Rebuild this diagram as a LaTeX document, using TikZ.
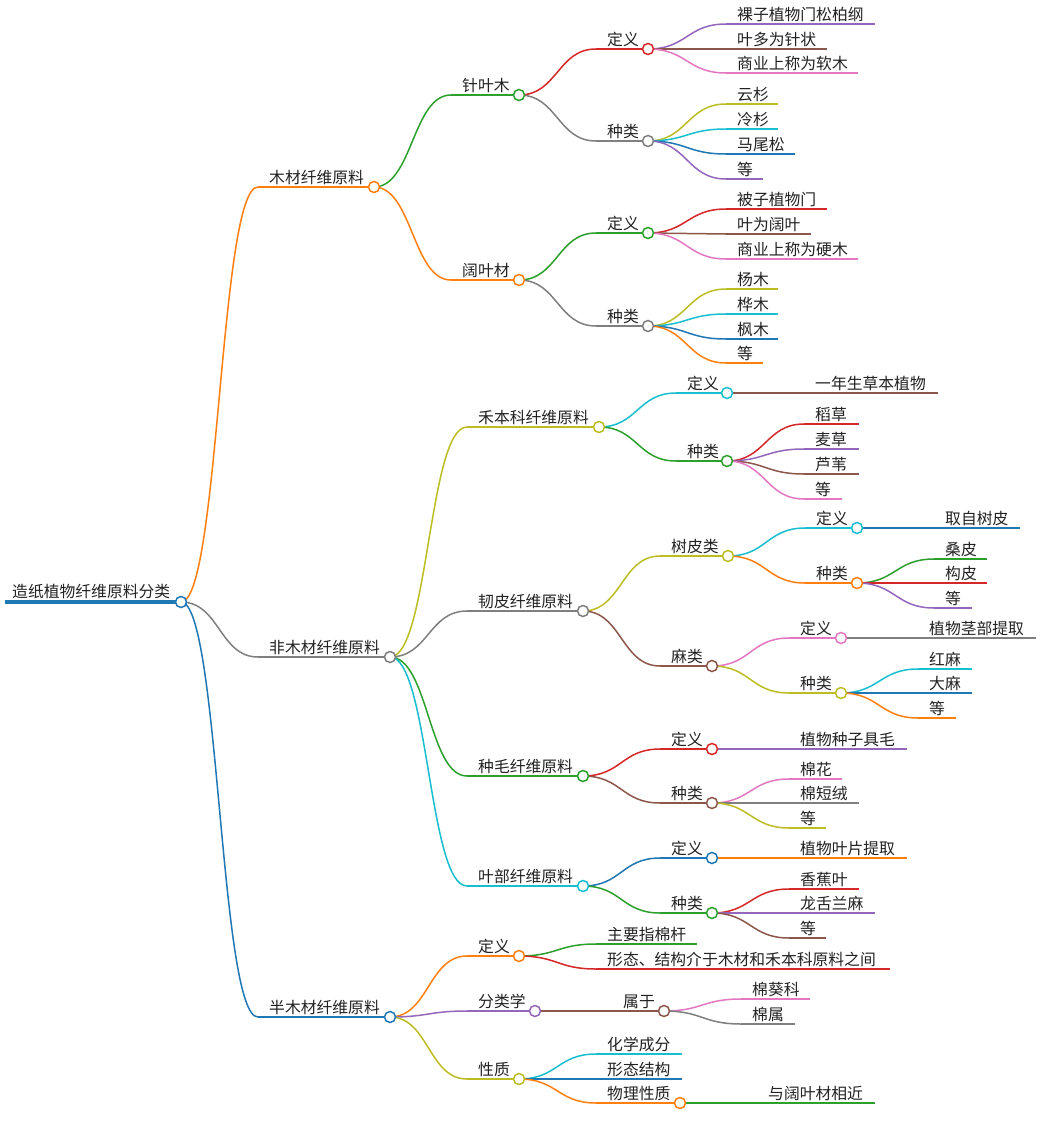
\documentclass[tikz,border=0pt]{standalone}
\usepackage{fontspec}
\newfontfamily\cjkfont{Noto Sans CJK SC}
\usetikzlibrary{calc}
\definecolor{mblue}{HTML}{1F77B4}
\definecolor{morange}{HTML}{FF7F0E}
\definecolor{mgreen}{HTML}{2CA02C}
\definecolor{mred}{HTML}{D62728}
\definecolor{mpurple}{HTML}{9467BD}
\definecolor{mbrown}{HTML}{8C564B}
\definecolor{mpink}{HTML}{E377C2}
\definecolor{mgrey}{HTML}{7F7F7F}
\definecolor{molive}{HTML}{BCBD22}
\definecolor{mcyan}{HTML}{17BECF}
\definecolor{mtext}{HTML}{222222}
\pgfdeclarelayer{paper}
\pgfdeclarelayer{bg}
\pgfsetlayers{paper,bg,main}
\tikzset{
  mmline/.style={line width=1.5pt},
  mmcirc/.style={circle, draw=#1, fill=white, line width=1.5pt, minimum size=11pt, inner sep=0pt},
  mmtext/.style={anchor=base west, inner sep=0pt, text=mtext, font={\cjkfont\fontsize{15.8pt}{18pt}\selectfont}},
}
% internal node: name, colour, line start x, y, circle x, text
\newcommand\mminode[6]{%
  \coordinate (#1-s) at (#3,#4);
  \node[mmcirc=#2] (#1) at (#5,#4) {};
  \node[mmtext] (#1-t) at ($(#1-s)+(11,-4)$) {#6};
  \begin{pgfonlayer}{bg}\draw[mmline,draw=#2] (#1-s) -- (#1.center);\end{pgfonlayer}
}
% leaf: name, colour, line start x, y, line end x, text
\newcommand\mmleaf[6]{%
  \coordinate (#1-s) at (#3,#4);
  \coordinate (#1-e) at (#5,#4);
  \node[mmtext] (#1-t) at ($(#1-s)+(11,-4)$) {#6};
  \begin{pgfonlayer}{bg}\draw[mmline,draw=#2] (#1-s) -- (#1-e);\end{pgfonlayer}
}
% link: parent circle, child, colour
\newcommand\mmlink[3]{%
  \begin{pgfonlayer}{bg}
  \draw[mmline,draw=#3] let \p1=(#1.center), \p2=(#2-s) in
    (\p1) .. controls ({0.5*\x1+0.5*\x2},\y1) and ({0.5*\x1+0.5*\x2},\y2) .. (\p2);
  \end{pgfonlayer}
}
\begin{document}
\begin{tikzpicture}[x=1pt,y=-1pt]
\begin{pgfonlayer}{paper}
\fill[white] (0,0) rectangle (1041,1143);
\end{pgfonlayer}
\useasboundingbox (0,0) rectangle (1041,1143);
% root
\coordinate (R-s) at (5,602);
\node[mmcirc=mblue] (R) at (181,602) {};
\node[mmtext] (R-t) at (12,597) {造纸植物纤维原料分类};
\begin{pgfonlayer}{bg}\draw[line width=4pt,draw=mblue] (R-s) -- (R.center);\end{pgfonlayer}

% ---------- 木材纤维原料
\mminode{A}{morange}{258}{187}{374}{木材纤维原料}
\mmlink{R}{A}{morange}
\mminode{A1}{mgreen}{451}{95}{519}{针叶木}
\mmlink{A}{A1}{mgreen}
\mminode{A11}{mred}{596}{49}{648}{定义}
\mmlink{A1}{A11}{mred}
\mmleaf{A111}{mpurple}{726}{24}{875}{裸子植物门松柏纲}
\mmleaf{A112}{mbrown}{726}{49}{827}{叶多为针状}
\mmleaf{A113}{mpink}{726}{73}{858}{商业上称为软木}
\mmlink{A11}{A111}{mpurple}
\mmlink{A11}{A112}{mbrown}
\mmlink{A11}{A113}{mpink}
\mminode{A12}{mgrey}{596}{141}{648}{种类}
\mmlink{A1}{A12}{mgrey}
\mmleaf{A121}{molive}{726}{104}{778}{云杉}
\mmleaf{A122}{mcyan}{726}{129}{778}{冷杉}
\mmleaf{A123}{mblue}{726}{154}{795}{马尾松}
\mmleaf{A124}{mpurple}{726}{179}{763}{等}
\mmlink{A12}{A121}{molive}
\mmlink{A12}{A122}{mcyan}
\mmlink{A12}{A123}{mblue}
\mmlink{A12}{A124}{mpurple}
\mminode{A2}{morange}{451}{280}{519}{阔叶材}
\mmlink{A}{A2}{morange}
\mminode{A21}{mgreen}{596}{233}{648}{定义}
\mmlink{A2}{A21}{mgreen}
\mmleaf{A211}{mred}{726}{209}{827}{被子植物门}
\mmleaf{A212}{mbrown}{726}{234}{811}{叶为阔叶}
\mmleaf{A213}{mpink}{726}{259}{858}{商业上称为硬木}
\mmlink{A21}{A211}{mred}
\mmlink{A21}{A212}{mbrown}
\mmlink{A21}{A213}{mpink}
\mminode{A22}{mgrey}{596}{326}{648}{种类}
\mmlink{A2}{A22}{mgrey}
\mmleaf{A221}{molive}{726}{289}{778}{杨木}
\mmleaf{A222}{mcyan}{726}{314}{778}{桦木}
\mmleaf{A223}{mblue}{726}{339}{778}{枫木}
\mmleaf{A224}{morange}{726}{363}{763}{等}
\mmlink{A22}{A221}{molive}
\mmlink{A22}{A222}{mcyan}
\mmlink{A22}{A223}{mblue}
\mmlink{A22}{A224}{morange}

% ---------- 非木材纤维原料
\mminode{B}{mgrey}{258}{657}{390}{非木材纤维原料}
\mmlink{R}{B}{mgrey}
% 禾本科
\mminode{B1}{molive}{467}{427}{599}{禾本科纤维原料}
\mmlink{B}{B1}{molive}
\mminode{B11}{mcyan}{676}{393}{727}{定义}
\mmlink{B1}{B11}{mcyan}
\mmleaf{B111}{mbrown}{804}{393}{938}{一年生草本植物}
\mmlink{B11}{B111}{mbrown}
\mminode{B12}{mgreen}{676}{461}{727}{种类}
\mmlink{B1}{B12}{mgreen}
\mmleaf{B121}{mred}{804}{424}{859}{稻草}
\mmleaf{B122}{mpurple}{804}{449}{859}{麦草}
\mmleaf{B123}{mbrown}{804}{474}{859}{芦苇}
\mmleaf{B124}{mpink}{804}{499}{842}{等}
\mmlink{B12}{B121}{mred}
\mmlink{B12}{B122}{mpurple}
\mmlink{B12}{B123}{mbrown}
\mmlink{B12}{B124}{mpink}
% 韧皮
\mminode{B2}{mgrey}{467}{611}{583}{韧皮纤维原料}
\mmlink{B}{B2}{mgrey}
\mminode{B21}{molive}{660}{556}{728}{树皮类}
\mmlink{B2}{B21}{molive}
\mminode{B211}{mcyan}{805}{528}{857}{定义}
\mmlink{B21}{B211}{mcyan}
\mmleaf{B2111}{mblue}{934}{528}{1020}{取自树皮}
\mmlink{B211}{B2111}{mblue}
\mminode{B212}{morange}{805}{583}{857}{种类}
\mmlink{B21}{B212}{morange}
\mmleaf{B2121}{mgreen}{934}{559}{987}{桑皮}
\mmleaf{B2122}{mred}{934}{583}{987}{构皮}
\mmleaf{B2123}{mpurple}{934}{608}{972}{等}
\mmlink{B212}{B2121}{mgreen}
\mmlink{B212}{B2122}{mred}
\mmlink{B212}{B2123}{mpurple}
\mminode{B22}{mbrown}{660}{666}{712}{麻类}
\mmlink{B2}{B22}{mbrown}
\mminode{B221}{mpink}{789}{638}{841}{定义}
\mmlink{B22}{B221}{mpink}
\mmleaf{B2211}{mgrey}{918}{638}{1036}{植物茎部提取}
\mmlink{B221}{B2211}{mgrey}
\mminode{B222}{molive}{789}{693}{841}{种类}
\mmlink{B22}{B222}{molive}
\mmleaf{B2221}{mcyan}{918}{669}{972}{红麻}
\mmleaf{B2222}{mblue}{918}{693}{972}{大麻}
\mmleaf{B2223}{morange}{918}{718}{956}{等}
\mmlink{B222}{B2221}{mcyan}
\mmlink{B222}{B2222}{mblue}
\mmlink{B222}{B2223}{morange}
% 种毛
\mminode{B3}{mgreen}{467}{776}{583}{种毛纤维原料}
\mmlink{B}{B3}{mgreen}
\mminode{B31}{mred}{660}{749}{712}{定义}
\mmlink{B3}{B31}{mred}
\mmleaf{B311}{mpurple}{789}{749}{907}{植物种子具毛}
\mmlink{B31}{B311}{mpurple}
\mminode{B32}{mbrown}{660}{803}{712}{种类}
\mmlink{B3}{B32}{mbrown}
\mmleaf{B321}{mpink}{789}{779}{842}{棉花}
\mmleaf{B322}{mgrey}{789}{803}{859}{棉短绒}
\mmleaf{B323}{molive}{789}{828}{826}{等}
\mmlink{B32}{B321}{mpink}
\mmlink{B32}{B322}{mgrey}
\mmlink{B32}{B323}{molive}
% 叶部
\mminode{B4}{mcyan}{467}{886}{583}{叶部纤维原料}
\mmlink{B}{B4}{mcyan}
\mminode{B41}{mblue}{660}{858}{712}{定义}
\mmlink{B4}{B41}{mblue}
\mmleaf{B411}{morange}{789}{858}{907}{植物叶片提取}
\mmlink{B41}{B411}{morange}
\mminode{B42}{mgreen}{660}{913}{712}{种类}
\mmlink{B4}{B42}{mgreen}
\mmleaf{B421}{mred}{789}{889}{859}{香蕉叶}
\mmleaf{B422}{mpurple}{789}{913}{875}{龙舌兰麻}
\mmleaf{B423}{mbrown}{789}{938}{826}{等}
\mmlink{B42}{B421}{mred}
\mmlink{B42}{B422}{mpurple}
\mmlink{B42}{B423}{mbrown}

% ---------- 半木材纤维原料
\mminode{C}{mblue}{258}{1017}{390}{半木材纤维原料}
\mmlink{R}{C}{mblue}
\mminode{C1}{morange}{467}{956}{519}{定义}
\mmlink{C}{C1}{morange}
\mmleaf{C11}{mgreen}{596}{944}{697}{主要指棉杆}
\mmleaf{C12}{mred}{596}{969}{890}{形态、结构介于木材和禾本科原料之间}
\mmlink{C1}{C11}{mgreen}
\mmlink{C1}{C12}{mred}
\mminode{C2}{mpurple}{467}{1011}{535}{分类学}
\mmlink{C}{C2}{mpurple}
\mminode{C21}{mbrown}{612}{1011}{664}{属于}
\mmlink{C2}{C21}{mbrown}
\mmleaf{C211}{mpink}{741}{999}{810}{棉葵科}
\mmleaf{C212}{mgrey}{741}{1024}{795}{棉属}
\mmlink{C21}{C211}{mpink}
\mmlink{C21}{C212}{mgrey}
\mminode{C3}{molive}{467}{1079}{519}{性质}
\mmlink{C}{C3}{molive}
\mmleaf{C31}{mcyan}{596}{1054}{682}{化学成分}
\mmleaf{C32}{mblue}{596}{1079}{682}{形态结构}
\mmlink{C3}{C31}{mcyan}
\mmlink{C3}{C32}{mblue}
\mminode{C33}{morange}{596}{1103}{680}{物理性质}
\mmlink{C3}{C33}{morange}
\mmleaf{C331}{mgreen}{757}{1103}{875}{与阔叶材相近}
\mmlink{C33}{C331}{mgreen}
\end{tikzpicture}
\end{document}
